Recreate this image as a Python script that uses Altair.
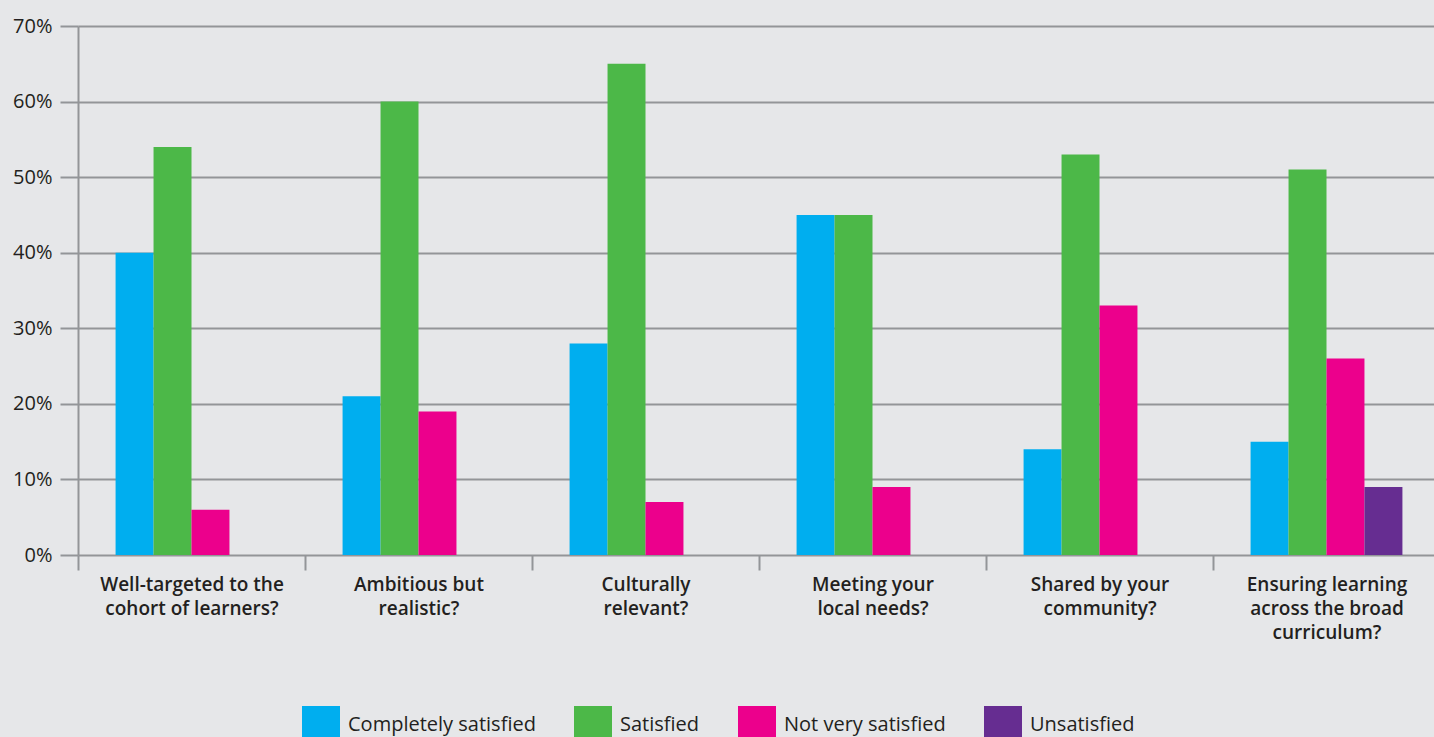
import altair as alt
import pandas as pd

categories = [
    "Well-targeted to the|cohort of learners?",
    "Ambitious but|realistic?",
    "Culturally|relevant?",
    "Meeting your|local needs?",
    "Shared by your|community?",
    "Ensuring learning|across the broad|curriculum?",
]
series = ["Completely satisfied", "Satisfied", "Not very satisfied", "Unsatisfied"]
colors = ["#00aeef", "#4cb848", "#ec008c", "#662d91"]

completely_satisfied = [40, 21, 28, 45, 14, 15]
satisfied = [54, 60, 65, 45, 53, 51]
not_very_satisfied = [6, 19, 7, 9, 33, 26]
unsatisfied = [None, None, None, None, None, 9]

rows = []
for s, vals in zip(series, [completely_satisfied, satisfied, not_very_satisfied, unsatisfied]):
    for c, v in zip(categories, vals):
        if v is not None:
            rows.append({"category": c, "series": s, "value": v})
df = pd.DataFrame(rows)

GRID = "#939598"
TEXT = "#231f20"
FONT = "Open Sans"

chart = alt.Chart(df).mark_bar().encode(
    x=alt.X(
        "category:N",
        sort=categories,
        scale=alt.Scale(range=[0, 1362], paddingInner=0, paddingOuter=0),
        axis=alt.Axis(
            title=None,
            labelAngle=0,
            labelExpr="split(datum.label, '|')",
            tickBand="extent",
            ticks=True,
            tickSize=15,
            tickWidth=2,
            tickColor=GRID,
            domain=False,
            grid=False,
            labelFont=FONT,
            labelFontSize=19,
            labelFontWeight=600,
            labelColor=TEXT,
            labelPadding=5,
            labelLineHeight=24,
            labelBaseline="top",
            labelLimit=0,
        ),
    ),
    xOffset=alt.XOffset(
        "series:N",
        sort=series,
        scale=alt.Scale(domain=series, paddingInner=0, paddingOuter=0.99),
    ),
    y=alt.Y(
        "value:Q",
        scale=alt.Scale(domain=[0, 70], nice=False),
        axis=alt.Axis(
            title=None,
            values=[0, 10, 20, 30, 40, 50, 60, 70],
            labelExpr="datum.value + '%'",
            tickSize=18,
            tickWidth=2,
            tickColor=GRID,
            domain=True,
            domainColor=GRID,
            domainWidth=2,
            grid=True,
            gridColor=GRID,
            gridWidth=2,
            labelFont=FONT,
            labelFontSize=20,
            labelColor=TEXT,
            labelPadding=8,
        ),
    ),
    color=alt.Color(
        "series:N",
        sort=series,
        scale=alt.Scale(domain=series, range=colors),
        legend=alt.Legend(
            title=None,
            orient="none",
            legendX=224,
            legendY=680,
            direction="horizontal",
            symbolType="square",
            symbolSize=1444,
            symbolStrokeWidth=0,
            symbolOpacity=1,
            labelFont=FONT,
            labelFontSize=20,
            labelColor=TEXT,
            labelOffset=8,
            labelLimit=0,
            columnPadding=38,
            padding=0,
        ),
    ),
).properties(
    width=1356,
    height=529,
    background="#e6e7e9",
    padding={"left": 78, "top": 26, "right": 0, "bottom": 182},
    autosize=alt.AutoSizeParams(type="none"),
).configure_view(stroke=None)

chart.save("out.html", embed_options={"renderer": "svg", "actions": False})
